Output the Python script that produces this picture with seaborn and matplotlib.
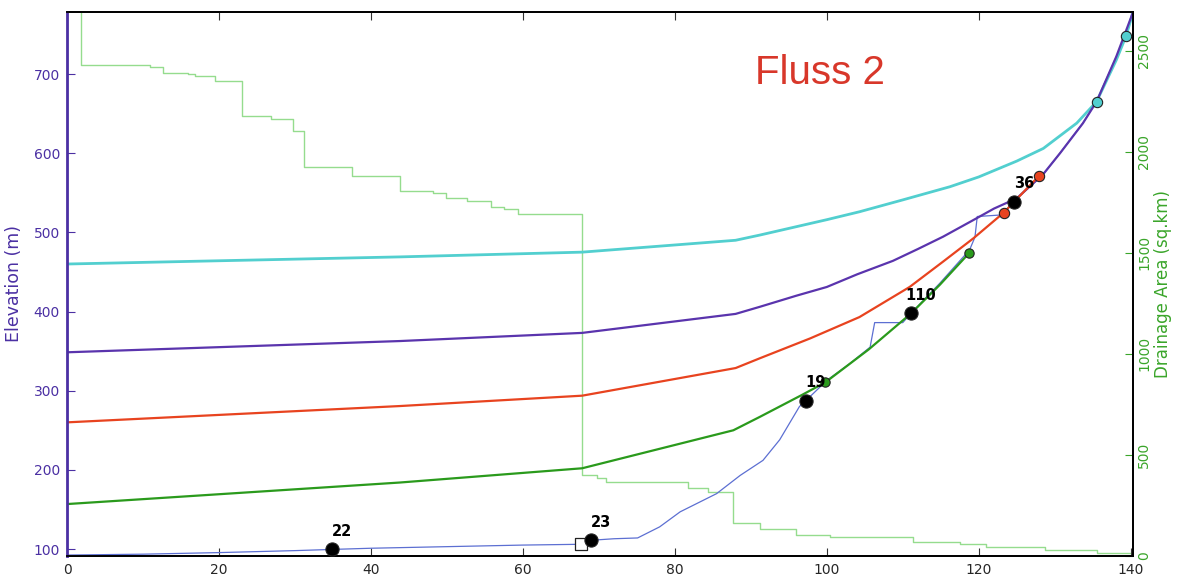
import matplotlib
matplotlib.use("Agg")
import matplotlib.pyplot as plt
import seaborn as sns
import pandas as pd

# ---------------- data ----------------
x_ticks = [0, 20, 40, 60, 80, 100, 120, 140]
elev_ticks = [100, 200, 300, 400, 500, 600, 700]
area_ticks = [0, 500, 1000, 1500, 2000, 2500]

# drainage area (step line, right axis)
area_x = [0, 1.8, 10.9, 12.6, 15.9, 16.8, 19.5, 23.0, 26.8, 29.7, 31.2, 37.5, 43.8,
          48.2, 49.9, 52.6, 55.8, 57.5, 59.3, 67.8, 69.8, 71.0, 81.7, 84.4, 87.6,
          91.2, 95.9, 100.4, 111.3, 117.5, 121.0, 128.7, 135.5, 140.3]
area_v = [3000, 2430, 2420, 2392, 2384, 2373, 2348, 2178, 2163, 2105, 1926, 1878, 1808,
          1797, 1772, 1757, 1729, 1718, 1693, 401, 385, 368, 337, 317, 163,
          134, 104, 93, 71, 59, 46, 30, 15, 0]

# observed river profile
prof_x = [0, 10, 20, 30, 34.9, 40, 50, 60, 67.6, 68.9, 72, 75.1, 78, 80.7, 85.5, 88.6,
          91.6, 93.8, 96.4, 97.2, 100, 103, 105.7, 106.3, 110, 111.1, 114.9, 118.8,
          119.5, 119.8, 123, 124.6, 128.4, 131, 133.7, 135.5, 138.1, 139.4, 140.3]
prof_y = [92.4, 93.5, 95.5, 98, 99.5, 101, 103, 105, 106, 111, 113, 114, 128, 147, 170, 193,
          212, 238, 280, 287, 313, 334, 355, 386, 386, 398, 436, 478,
          494, 520, 522, 539, 572, 604, 638, 665, 722, 750, 780]

# modelled profiles
cyan_x = [0, 43.8, 67.8, 88, 91.2, 100, 104.3, 110, 116.2, 120, 125, 128.5, 132.9, 135.5, 138.1, 139.4, 140.3]
cyan_y = [460, 469, 475, 490, 496.6, 516, 526, 541, 557.6, 570, 590, 606, 638, 665, 717.6, 748.3, 778]

purple_x = [0, 43.8, 67.8, 88, 91.2, 96, 100, 104, 108.7, 112, 115.3, 119.7, 122, 125, 128.5, 130.7, 133.7, 135.5, 138.1, 140.3]
purple_y = [348.5, 362.7, 373, 397, 406, 420, 431, 447, 464, 479, 494.5, 517.7, 530, 543, 573.7, 600, 637.7, 665, 722, 778]

red_x = [0, 43.8, 67.8, 88, 91.2, 97.8, 104.3, 110.9, 115.3, 119.3, 123.3, 127.9]
red_y = [260, 280.6, 293.7, 328.6, 341, 366, 393, 431, 463, 492.5, 525, 571]

green_x = [0, 43.8, 67.8, 87.7, 91.2, 96.8, 99.8, 105.5, 111.1, 114.9, 118.7]
green_y = [156.8, 184, 202, 250, 267, 295, 310.5, 352, 397.7, 434, 473.5]

# knickpoint markers
cyan_pts_x = [135.5, 139.4]
cyan_pts_y = [665, 748.3]
red_pts_x = [123.3, 127.9]
red_pts_y = [525, 571]
green_pts_x = [99.8, 118.7]
green_pts_y = [310.5, 473.5]
black_x = [34.9, 68.9, 97.2, 111.1, 124.6]
black_y = [99.5, 111, 287, 397.7, 538.7]
black_lbl = ["22", "23", "19", "110", "36"]
square_x = [67.6]
square_y = [106]

title = "Fluss 2"

# ---------------- colours ----------------
C_CYAN = "#52cfcf"
C_PURPLE = "#5a34ad"
C_RED = "#e8431f"
C_GREEN = "#2a9a1c"
C_AREA = "#95dc8e"
C_PROF = "#5c6fd2"
C_LEFT = "#4b30a3"
C_RIGHT = "#3aa52a"

sns.set_style("white")
plt.rcParams["font.family"] = ["DejaVu Sans"]

fig = plt.figure(figsize=(11.77, 5.77), dpi=100)
ax1 = fig.add_axes([67 / 1177, 1 - 556 / 577, (1133 - 67) / 1177, (556 - 11.7) / 577])
ax2 = ax1.twinx()
ax1.set_zorder(ax2.get_zorder() + 1)
ax1.patch.set_visible(False)

# drainage area
dfa = pd.DataFrame({"x": area_x, "a": area_v})
sns.lineplot(data=dfa, x="x", y="a", ax=ax2, color=C_AREA, lw=1.0,
             drawstyle="steps-post", estimator=None, sort=False)

def line(xs, ys, color, lw):
    d = pd.DataFrame({"x": xs, "y": ys})
    sns.lineplot(data=d, x="x", y="y", ax=ax1, color=color, lw=lw,
                 estimator=None, sort=False)

line(prof_x, prof_y, C_PROF, 0.9)
line(cyan_x, cyan_y, C_CYAN, 2.0)
line(purple_x, purple_y, C_PURPLE, 1.6)
line(red_x, red_y, C_RED, 1.6)
line(green_x, green_y, C_GREEN, 1.6)

def pts(xs, ys, color, s, marker="o", lw=0.8):
    d = pd.DataFrame({"x": xs, "y": ys})
    sns.scatterplot(data=d, x="x", y="y", ax=ax1, color=color, s=s, marker=marker,
                    edgecolor="#222222", linewidth=lw, zorder=5)

pts(cyan_pts_x, cyan_pts_y, C_CYAN, 55)
pts(red_pts_x, red_pts_y, C_RED, 55)
pts(green_pts_x, green_pts_y, C_GREEN, 45)
pts(square_x, square_y, "white", 70, marker="s", lw=0.9)
pts(black_x, black_y, "black", 90)

for x, y, t in zip(black_x, black_y, black_lbl):
    ax1.annotate(t, (x, y), xytext=(10, 18), textcoords="offset pixels",
                 ha="center", va="center", fontsize=10.5, fontweight="bold",
                 color="black", zorder=6)

ax1.text(0.706, 0.888, title, transform=ax1.transAxes, fontsize=29,
         color="#d8372a", ha="center", va="center", family="Liberation Sans")

# axes
ax1.set_xlim(0, 140.3)
ax1.set_ylim(91.2, 778.7)
ax2.set_ylim(0, 2693)
ax1.set_xticks(x_ticks)
ax1.set_yticks(elev_ticks)
ax2.set_yticks(area_ticks)
ax1.set_xlabel("")
ax1.set_ylabel("Elevation (m)", color=C_LEFT, fontsize=12.5, labelpad=8)
ax2.set_ylabel("Drainage Area (sq.km)", color=C_RIGHT, fontsize=12, labelpad=2)

ax1.tick_params(axis="x", direction="in", top=True, bottom=True, length=6,
                width=0.8, color="#333333", labelsize=10, pad=5)
ax1.tick_params(axis="y", direction="in", left=True, right=False, length=6,
                width=0.8, color=C_LEFT, labelcolor=C_LEFT, labelsize=10, pad=5)
ax2.tick_params(axis="y", direction="in", right=True, length=6, width=0.8,
                color=C_RIGHT, labelcolor=C_RIGHT, labelsize=10, pad=3)
for lab in ax2.get_yticklabels():
    lab.set_rotation(90)
    lab.set_va("center")

for sp in ["top", "bottom", "right"]:
    ax1.spines[sp].set_color("black")
    ax1.spines[sp].set_linewidth(1.3)
    ax2.spines[sp].set_color("black")
    ax2.spines[sp].set_linewidth(1.3)
ax1.spines["left"].set_color(C_LEFT)
ax1.spines["left"].set_linewidth(2.0)
ax2.spines["left"].set_visible(False)

fig.savefig("out.png", dpi=100)
